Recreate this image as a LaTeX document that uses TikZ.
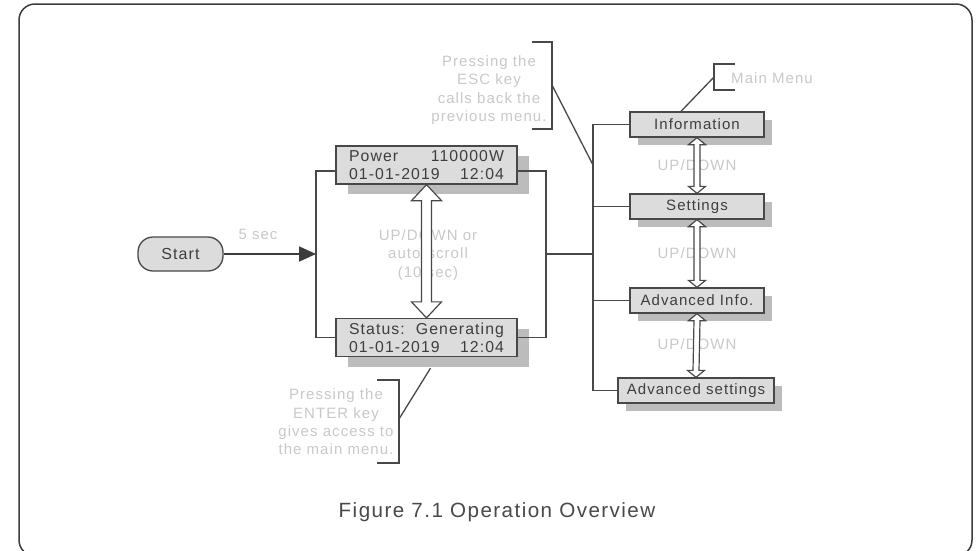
\documentclass[tikz,border=0pt]{standalone}
\usepackage{fontspec}
\setmainfont{Liberation Sans}[LetterSpace=7]
\usetikzlibrary{arrows.meta,calc,shadows}

\definecolor{linegray}{RGB}{72,72,72}
\definecolor{boxfill}{RGB}{220,220,220}
\definecolor{boxshadow}{RGB}{188,188,188}
\definecolor{textdark}{RGB}{62,62,62}
\definecolor{textlight}{RGB}{200,200,200}
\definecolor{framegray}{RGB}{60,60,60}

\tikzset{
  wire/.style={draw=linegray, line width=1.3pt},
  startbox/.style={draw=linegray, line width=1.3pt, fill=boxfill, text=textdark,
    rounded corners=15pt, minimum width=85pt, minimum height=34pt,
    font=\fontsize{16}{18}\selectfont},
  screen/.style={draw=linegray, line width=1.3pt, fill=boxfill, text=textdark,
    minimum width=181pt, minimum height=38pt, inner xsep=13pt, inner ysep=1pt,
    text width=155pt, align=left, font=\fontsize{15.8}{18}\selectfont,
    drop shadow={shadow xshift=12pt, shadow yshift=-10pt, fill=boxshadow, opacity=1}},
  menu/.style={draw=linegray, line width=1.3pt, fill=boxfill, text=textdark,
    minimum width=134pt, minimum height=25pt, inner sep=0pt,
    font=\fontsize{15}{18}\selectfont,
    drop shadow={shadow xshift=8pt, shadow yshift=-8pt, fill=boxshadow, opacity=1}},
  note/.style={text=textlight, align=center, inner sep=0pt,
    font=\fontsize{15}{18.3}\selectfont},
  hollow/.style={draw=linegray, line width=1.2pt, fill=white, line join=miter},
  startarrow/.style={draw=framegray, line width=1.8pt,
    -{Triangle[length=17pt,width=15pt]}}
}

% hollow double arrow: from node, to node, shaft half width, head half width, head length
\newcommand{\updown}[5]{%
  \draw[hollow] (#1.south) -- ++(#4,#5) -- ++(#3-#4,0)
    -- ($(#2.north)+(#3,-#5)$) -- ++(#4-#3,0) -- (#2.north)
    -- ++(-#4,-#5) -- ++(#4-#3,0)
    -- ($(#1.south)+(-#3,#5)$) -- ++(#3-#4,0) -- cycle;}

\begin{document}
\begin{tikzpicture}[x=1pt, y=-1pt]
\useasboundingbox (0,0) rectangle (977,550);
\draw[draw=framegray, line width=1.5pt, rounded corners=16pt] (19,4) rectangle (972,556);

% screens
\node[startbox] (start) at (180.5,254) {Start};
\node[screen] (pw) at (426.5,165) {Power\hfill 110000W\\01-01-2019\hfill 12:04};
\node[screen] (st) at (426.5,337.5) {Status:\hfill Generating\\01-01-2019\hfill 12:04};

% main menu
\node[menu] (info) at (697,124.5) {Information};
\node[menu] (set) at (697,206.5) {Settings};
\node[menu] (advi) at (697,300.5) {Advanced Info.};
\node[menu, minimum width=156pt] (advs) at (696,390.5) {Advanced settings};

% notes
\node[note] (delay) at (258,234) {5 sec};
\node[note] (scroll) at (428,255) {UP/DOWN or\\auto-scroll\\(10 sec)};
\node[note] (ud1) at (697,165) {UP/DOWN};
\node[note] (ud2) at (697,253) {UP/DOWN};
\node[note] (ud3) at (697,344) {UP/DOWN};
\node[note] (esc) at (489,90) {Pressing the\\ESC key\\calls back the\\previous menu.};
\node[note] (enter) at (336,422) {Pressing the\\ENTER key\\gives access to\\the main menu.};
\node[note] (mainmenu) at (772,78) {Main Menu};

% joints
\coordinate (lbr) at (316,254);
\coordinate (rbr) at (546,254);
\coordinate (trunk) at (593,254);
\coordinate (escb) at (552,85);
\coordinate (escj) at (593,165);
\coordinate (mmb) at (714,77);
\coordinate (entb) at (399,419);

\draw[startarrow] (start) -- (lbr);
\draw[wire] ([yshift=-6pt]pw.west) -| (lbr) |- (st.west);
\draw[wire] ([yshift=-6pt]pw.east) -| (rbr) |- (st.east);
\draw[wire] (rbr) -- (trunk);
\draw[wire] (info.west) -| (trunk) |- (advs.west);
\draw[wire] (set.west) -- (set.west -| trunk);
\draw[wire] (advi.west) -- (advi.west -| trunk);

% brackets
\draw[wire] (532,42) -| (552,129) -- (532,129);
\draw[wire] (escb) -- (escj);
\draw[wire] (735,64) -| (714,90) -- (735,90);
\draw[wire] (mmb) -- ([xshift=-16pt]info.north);
\draw[wire] (377,380) -| (399,463) -- (377,463);
\draw[wire] (entb) -- ([xshift=4pt,yshift=-11pt]st.south);

\updown{pw}{st}{5}{15}{16}
\updown{info}{set}{3}{8.5}{7}
\updown{set}{advi}{3}{8.5}{7}
\updown{advi}{advs}{3}{8.5}{7}

\node[text=linegray, font=\fontsize{20.6}{23}\selectfont] (caption) at (497,512) {Figure 7.1 Operation Overview};
\end{tikzpicture}
\end{document}
